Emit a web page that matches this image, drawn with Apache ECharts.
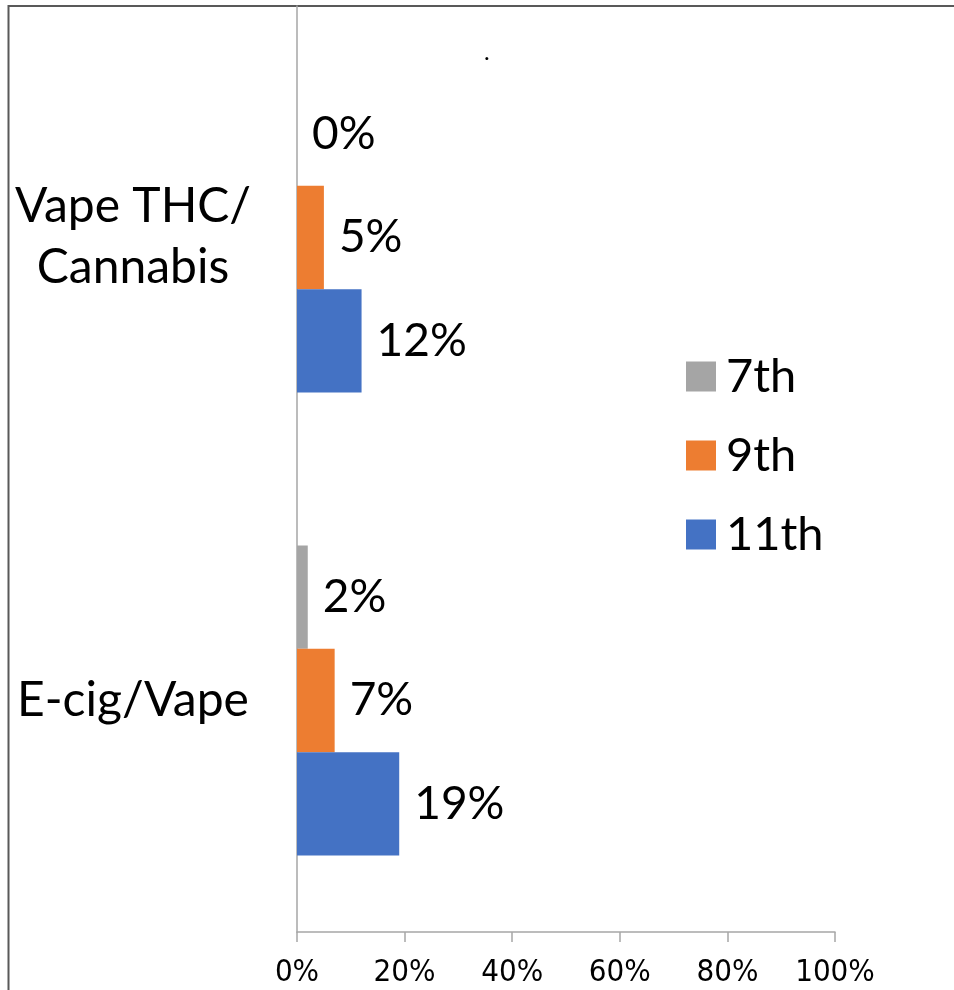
<!DOCTYPE html>
<html>
<head>
<meta charset="utf-8">
<script src="https://cdn.jsdelivr.net/npm/echarts@6/dist/echarts.min.js"></script>
<style>
html,body{margin:0;padding:0;background:#fff;}
#chart{width:954px;height:990px;}
</style>
</head>
<body>
<div id="chart"></div>
<script>
// Data
const categories = ["Vape THC/\nCannabis", "E-cig/Vape"];
const seriesNames = ["7th", "9th", "11th"];
const values7th = [0, 2];
const values9th = [5, 7];
const values11th = [12, 19];
const xTicks = [0, 20, 40, 60, 80, 100];
const colors = ["#A5A5A5", "#ED7D31", "#4472C4"];

const seriesValues = [values7th, values9th, values11th];
const chart = echarts.init(document.getElementById('chart'), null, {renderer: 'canvas'});

const option = {
  animation: false,
  backgroundColor: '#ffffff',
  title: {
    text: '.',
    left: 484,
    top: 40,
    padding: 0,
    textStyle: {fontFamily: 'Lato', fontSize: 24, fontWeight: 'normal', color: '#000'}
  },
  legend: {
    orient: 'vertical',
    left: 686,
    top: 353,
    padding: 0,
    itemWidth: 30,
    itemHeight: 30,
    itemGap: 32,
    icon: 'rect',
    data: seriesNames,
    textStyle: {fontFamily: 'Lato', fontSize: 47, lineHeight: 46, color: '#000', padding: [0, 0, 0, 5]}
  },
  grid: {left: 297, right: 119, top: 6, bottom: 58, containLabel: false},
  xAxis: {
    type: 'value',
    min: xTicks[0],
    max: xTicks[xTicks.length - 1],
    interval: 20,
    splitLine: {show: false},
    axisLine: {show: true, lineStyle: {color: '#A6A6A6', width: 1.5}},
    axisTick: {show: true, length: 10, lineStyle: {color: '#A6A6A6', width: 1.5}},
    axisLabel: {
      formatter: '{value}%',
      margin: 25,
      fontFamily: "'DejaVu Sans Condensed', 'Liberation Sans', sans-serif",
      fontSize: 31,
      color: '#000'
    }
  },
  yAxis: {
    type: 'category',
    inverse: true,
    data: categories,
    axisLine: {show: true, lineStyle: {color: '#A6A6A6', width: 1.5}},
    axisTick: {show: false},
    axisLabel: {
      align: 'center',
      margin: 164,
      fontFamily: 'Lato',
      fontSize: 48,
      lineHeight: 61,
      color: '#000'
    }
  },
  series: seriesNames.map((name, i) => ({
    name: name,
    type: 'bar',
    data: seriesValues[i],
    barGap: '0%',
    barCategoryGap: '33%',
    itemStyle: {color: colors[i]},
    label: {
      show: true,
      position: 'right',
      distance: 15,
      formatter: '{c}%',
      fontFamily: 'Lato',
      fontSize: 46,
      color: '#000'
    }
  })),
  graphic: [{
    type: 'rect',
    silent: true,
    shape: {x: 8.5, y: 6, width: 1200, height: 1200},
    style: {fill: 'none', stroke: '#595959', lineWidth: 2}
  }]
};
chart.setOption(option);
</script>
</body>
</html>
